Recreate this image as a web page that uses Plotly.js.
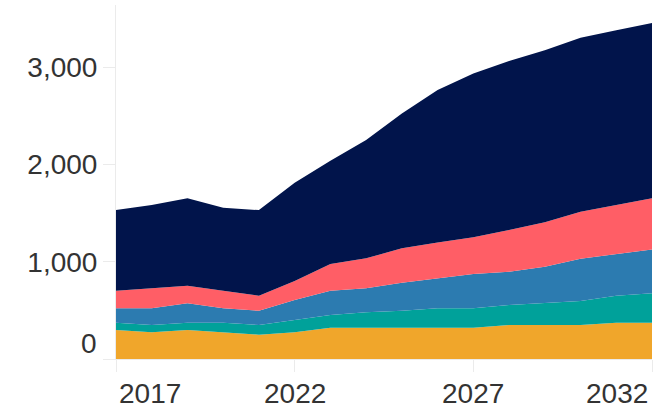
<!DOCTYPE html>
<html>
<head>
<meta charset="utf-8">
<script src="https://cdn.plot.ly/plotly-3.0.1.min.js"></script>
<style>html,body{margin:0;padding:0;background:#fff;}#chart{width:655px;height:411px;}</style>
</head>
<body>
<div id="chart"></div>
<script>
const years = [2017,2018,2019,2020,2021,2022,2023,2024,2025,2026,2027,2028,2029,2030,2031,2032];
const seriesOrange = [298,274,298,274,250,274,322,322,322,322,322,349,349,349,373,373];
const seriesTeal   = [75,75,75,99,99,127,130,158,174,199,199,206,223,247,278,302];
const seriesBlue   = [148,172,199,148,147,205,250,247,288,308,353,342,377,435,428,452];
const seriesCoral  = [181,206,181,181,155,196,274,308,354,370,377,429,456,483,504,525];
const seriesNavy   = [829,856,899,853,880,1010,1062,1216,1387,1566,1685,1737,1771,1788,1798,1804];
const xTickYears = [2017,2022,2027,2032];
const yTickVals = [0,1000,2000,3000];
const yTickText = ['0','1,000','2,000','3,000'];

const colors = ['#F0A62B','#00A19A','#2C7BB0','#FF5E66','#01144B'];
const allSeries = [seriesOrange, seriesTeal, seriesBlue, seriesCoral, seriesNavy];

const traces = allSeries.map((s, i) => ({
  x: years, y: s, type: 'scatter', mode: 'lines',
  stackgroup: 'one', line: {width: 0, color: colors[i]},
  fillcolor: colors[i], hoverinfo: 'skip', showlegend: false
}));

const fontFamily = '"Liberation Sans", Arial, sans-serif';
const textColor = '#333333';
const annotations = [];
xTickYears.forEach((yr, i) => {
  const anchor = i === 0 ? 'left' : (i === xTickYears.length - 1 ? 'right' : 'center');
  annotations.push({
    x: yr, xref: 'x', y: 0, yref: 'paper', yanchor: 'middle', xanchor: anchor,
    yshift: -34, xshift: anchor === 'left' ? 1 : (anchor === 'right' ? -2 : 0),
    text: String(yr), showarrow: false,
    font: {family: fontFamily, size: 28, color: textColor}
  });
});
annotations.push({
  x: 0, xref: 'paper', y: yTickVals[0], yref: 'y', xanchor: 'right', yanchor: 'middle',
  xshift: -17, yshift: 16, text: yTickText[0], showarrow: false,
  font: {family: fontFamily, size: 28, color: textColor}
});

const layout = {
  width: 655, height: 411,
  margin: {l: 116, r: 3, t: 5, b: 52},
  paper_bgcolor: '#ffffff', plot_bgcolor: '#ffffff',
  font: {family: fontFamily, size: 28, color: textColor},
  xaxis: {
    range: [2017, 2032], showgrid: false, zeroline: false,
    showline: true, linecolor: '#ebebeb', linewidth: 1,
    ticks: 'outside', ticklen: 12, tickcolor: '#ebebeb', tickwidth: 1,
    tickvals: xTickYears, showticklabels: false
  },
  yaxis: {
    range: [0, 3640], showgrid: false, zeroline: false,
    showline: true, linecolor: '#ebebeb', linewidth: 1,
    ticks: 'outside', ticklen: 12, tickcolor: '#ebebeb', tickwidth: 1,
    tickvals: yTickVals, ticktext: yTickText.map((t, i) => i === 0 ? '' : t),
    tickfont: {family: fontFamily, size: 28, color: textColor}
  },
  annotations: annotations,
  showlegend: false
};

Plotly.newPlot('chart', traces, layout, {staticPlot: true, displayModeBar: false});
</script>
</body>
</html>
